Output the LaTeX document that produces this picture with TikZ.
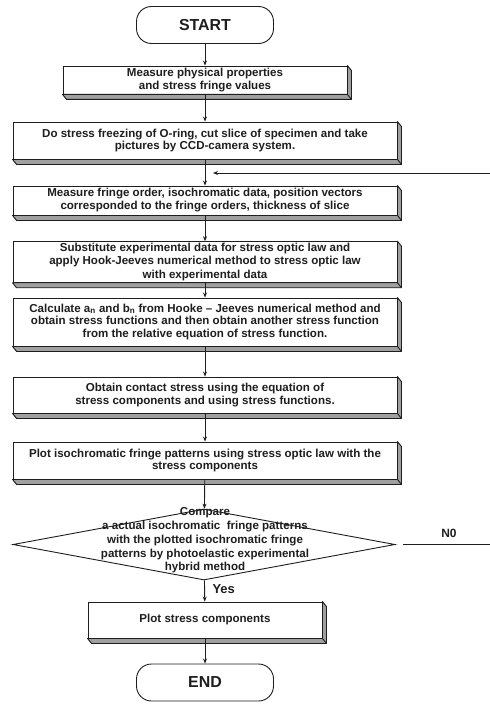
\documentclass[tikz,border=0pt]{standalone}
\usepackage{fontspec}
\setmainfont{Liberation Sans}
\usetikzlibrary{positioning,arrows.meta,calc,shapes.geometric}
\definecolor{inkgray}{HTML}{1E1E1E}
\definecolor{bevelgray}{HTML}{A0A0A0}
\tikzset{
    every node/.style={font=\bfseries\fontsize{11.6}{13}\selectfont,text=inkgray},
    terminal/.style={draw=inkgray,line width=0.9bp,fill=white,rounded corners=15bp,minimum width=137bp,minimum height=37bp,font=\bfseries\fontsize{16}{18}\selectfont},
    procbox/.style={draw=inkgray,line width=0.9bp,fill=white,align=center,inner sep=1pt},
    decision/.style={diamond,draw=inkgray,line width=0.9bp,fill=white,inner sep=0pt,minimum width=382bp,minimum height=71bp},
    bevel/.style={draw=inkgray,line width=0.9bp,fill=bevelgray,line join=round},
    flow/.style={draw=inkgray,line width=0.9bp,-{Stealth[length=5bp,width=4bp]}},
    plainline/.style={draw=inkgray,line width=0.9bp}
}

\begin{document}
\begin{tikzpicture}[x=1bp,y=-1bp]
\useasboundingbox (0,0) rectangle (490,704);
% start and process steps
\node[terminal] (start) at (205,25) {START};
\node[procbox,minimum width=284bp,minimum height=28bp] (phys) at (205,80)
    {Measure physical properties\\and stress fringe values};
\node[procbox,minimum width=384bp,minimum height=37bp] (freeze) at (205,140.5)
    {Do stress freezing of O-ring, cut slice of specimen and take\\pictures by CCD-camera system.};
\node[procbox,minimum width=384bp,minimum height=29bp] (fringe) at (205,200.5)
    {Measure fringe order, isochromatic data, position vectors\\corresponded to the fringe orders, thickness of slice};
\node[procbox,minimum width=384bp,minimum height=40bp,font=\bfseries\fontsize{11.6}{14}\selectfont] (subst) at (205,262)
    {Substitute experimental data for stress optic law and\\apply Hook-Jeeves numerical method to stress optic law\\with experimental data};
\node[procbox,minimum width=384bp,minimum height=48bp] (hooke) at (205,322)
    {Calculate a\textsubscript{n} and b\textsubscript{n} from Hooke -- Jeeves numerical method and\\obtain stress functions and then obtain another stress function\\from the relative equation of stress function.};
\node[procbox,minimum width=384bp,minimum height=36bp] (contact) at (205,395)
    {Obtain contact stress using the equation of\\stress components and using stress functions.};
\node[procbox,minimum width=384bp,minimum height=37bp] (plotiso) at (205,460.5)
    {Plot isochromatic fringe patterns using stress optic law with the\\stress components};
% comparison
\node[decision] (cmp) at (204,544.5) {};
\node[align=center,font=\bfseries\fontsize{11.6}{13.8}\selectfont] (cmptext) at (205,540.5)
    {Compare\\a actual isochromatic\ \ fringe patterns\\with the plotted isochromatic fringe\\patterns by photoelastic experimental\\hybrid method};
\node[procbox,minimum width=234bp,minimum height=36bp] (plotstress) at (205,620)
    {Plot stress components};
\node[terminal] (end) at (205,682.5) {END};

% 3d edge of the boxes
\foreach \n in {phys,freeze,fringe,subst,hooke,contact,plotiso,plotstress}{
    \filldraw[bevel] (\n.south west) -- ++(4,5) -- ($(\n.south east)+(4,5)$)
        -- ($(\n.north east)+(4,5)$) -- (\n.north east) -- (\n.south east) -- cycle;
    \draw[bevel] (\n.south east) -- ++(4,5);
}

% flow
\draw[flow] (start) -- (phys);
\draw[flow] (phys) -- (freeze);
\draw[flow] (freeze) -- (fringe);
\draw[flow] (fringe) -- (subst);
\draw[flow] (subst) -- (hooke);
\draw[flow] (hooke) -- (contact);
\draw[flow] (contact) -- (plotiso);
\draw[flow] (plotiso) -- (cmp);
\draw[flow] (cmp) -- (plotstress);
\draw[flow] (plotstress) -- (end);

% loop back
\coordinate (loopin) at (490,173);
\coordinate (looptip) at (213,173);
\draw[flow] (loopin) -- (looptip);
\coordinate (noend) at (490,544.5);
\draw[plainline] ([xshift=8bp]cmp.east) -- (noend);
\node[font=\bfseries\fontsize{12}{14}\selectfont] (nolab) at (449,533) {N0};
\node[anchor=west,font=\bfseries\fontsize{13}{15}\selectfont] (yeslab) at (209,589) {Yes};
\end{tikzpicture}
\end{document}
